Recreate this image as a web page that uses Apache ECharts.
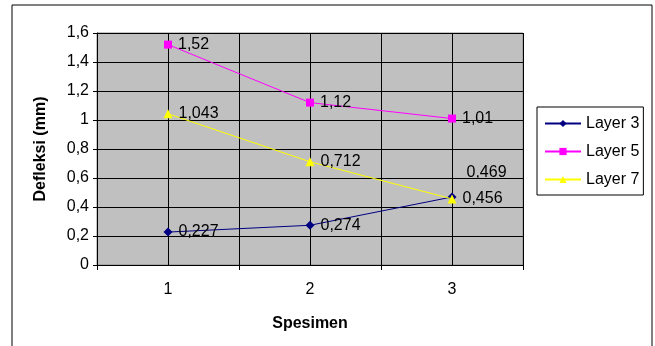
<!DOCTYPE html>
<html>
<head>
    <meta charset="utf-8">
    <title>Defleksi</title>
    <script src="https://cdn.jsdelivr.net/npm/echarts@6/dist/echarts.min.js"></script>
    <style>
        html, body { margin: 0; padding: 0; background: #fff; }
        #chart { width: 655px; height: 346px; }
    </style>
</head>
<body>
<div id="chart"></div>
<script type="text/javascript">
    // data
    var categories = ['1', '2', '3'];
    var layer3 = [0.227, 0.274, 0.469];
    var layer5 = [1.52, 1.12, 1.01];
    var layer7 = [1.043, 0.712, 0.456];

    var font = 'Liberation Sans, Arial, sans-serif';

    // decimal comma, like the original
    function koma(v) {
        return String(v).replace('.', ',');
    }

    function labelStyle() {
        return {
            show: true,
            position: 'right',
            distance: 6,
            color: '#000',
            fontFamily: font,
            fontSize: 16,
            formatter: function (p) { return koma(p.value); }
        };
    }

    // the last point of Layer 3 has its label lifted above the point
    var layer3Data = layer3.map(function (v, i) {
        if (i === 2) {
            return { value: v, label: { offset: [4, -24] } };
        }
        return v;
    });

    var option = {
        animation: false,
        backgroundColor: '#fff',
        textStyle: { fontFamily: font },
        grid: {
            left: 97, top: 33, right: 132, bottom: 81,
            show: true,
            backgroundColor: '#c0c0c0',
            borderColor: '#8a8a8a',
            borderWidth: 1
        },
        legend: {
            orient: 'vertical',
            left: 537,
            top: 107,
            backgroundColor: '#fff',
            borderColor: '#000',
            borderWidth: 1,
            borderRadius: 0,
            padding: [8, 4, 7, 7],
            itemGap: 11,
            itemWidth: 36,
            itemHeight: 9,
            textStyle: { fontFamily: font, fontSize: 16, color: '#000', lineHeight: 17 },
            data: ['Layer 3', 'Layer 5', 'Layer 7']
        },
        xAxis: [{
            type: 'category',
            data: categories,
            boundaryGap: true,
            name: 'Spesimen',
            nameLocation: 'middle',
            nameGap: 51,
            nameTextStyle: { fontFamily: font, fontSize: 16, fontWeight: 'bold', color: '#000' },
            axisLine: { lineStyle: { color: '#000', width: 1 } },
            axisTick: { show: true, length: 5, lineStyle: { color: '#000' } },
            axisLabel: { color: '#000', fontFamily: font, fontSize: 16, margin: 17 },
            splitLine: { show: false }
        }, {
            // only for the grid lines at every half category
            type: 'value',
            min: 0,
            max: 3,
            interval: 0.5,
            position: 'bottom',
            axisLine: { show: false },
            axisTick: { show: false },
            axisLabel: { show: false },
            splitLine: { show: true, lineStyle: { color: '#000', width: 1 } }
        }],
        yAxis: {
            type: 'value',
            min: 0,
            max: 1.6,
            interval: 0.2,
            name: 'Defleksi (mm)',
            nameLocation: 'middle',
            nameGap: 48,
            nameTextStyle: { fontFamily: font, fontSize: 16, fontWeight: 'bold', color: '#000' },
            axisLine: { show: true, lineStyle: { color: '#000', width: 1 } },
            axisTick: { show: true, length: 4, lineStyle: { color: '#000' } },
            axisLabel: {
                color: '#000', fontFamily: font, fontSize: 16, margin: 8,
                formatter: function (v) { return koma(Math.round(v * 10) / 10); }
            },
            splitLine: { show: true, lineStyle: { color: '#000', width: 1 } }
        },
        series: [{
            name: 'Layer 3',
            type: 'line',
            data: layer3Data,
            symbol: 'diamond',
            symbolSize: 9,
            itemStyle: { color: '#000080' },
            lineStyle: { color: '#000080', width: 1 },
            label: labelStyle(),
            z: 5
        }, {
            name: 'Layer 5',
            type: 'line',
            data: layer5,
            symbol: 'rect',
            symbolSize: 8,
            itemStyle: { color: '#ff00ff' },
            lineStyle: { color: '#ff00ff', width: 1 },
            label: labelStyle(),
            z: 5
        }, {
            name: 'Layer 7',
            type: 'line',
            data: layer7,
            symbol: 'triangle',
            symbolSize: 9,
            itemStyle: { color: '#ffff00' },
            lineStyle: { color: '#ffff00', width: 1 },
            label: labelStyle(),
            z: 6
        }],
        graphic: [{
            // outer chart frame
            type: 'rect',
            shape: { x: 12, y: 5, width: 640, height: 360 },
            style: { fill: null, stroke: '#000', lineWidth: 1 },
            silent: true
        }]
    };

    var myChart = echarts.init(document.getElementById('chart'), null, { renderer: 'canvas' });
    myChart.setOption(option);
</script>
</body>
</html>
